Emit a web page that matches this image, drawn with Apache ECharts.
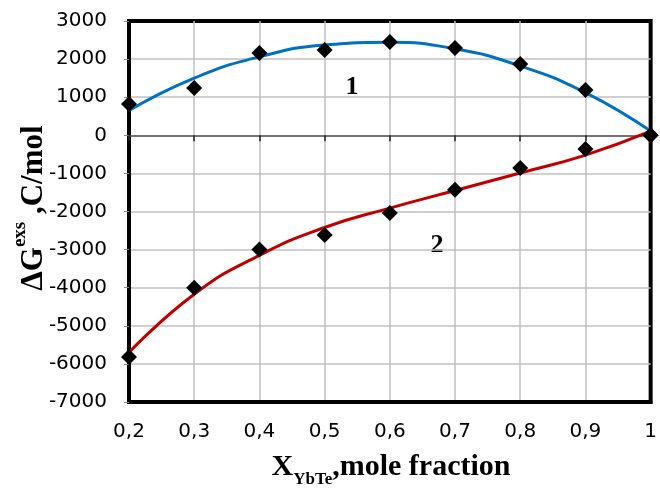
<!DOCTYPE html>
<html>
<head>
<meta charset="utf-8">
<script src="https://cdn.jsdelivr.net/npm/echarts@6/dist/echarts.min.js"></script>
<style>
	html, body { margin: 0; padding: 0; background: #fff; }
	#main { width: 660px; height: 490px; }
</style>
</head>
<body>
<div id="main"></div>
<script>
var X_VALUES = [0.2, 0.3, 0.4, 0.5, 0.6, 0.7, 0.8, 0.9, 1.0];
// measured points (diamonds)
var EXP_1 = [820, 1240, 2160, 2240, 2450, 2290, 1870, 1190, 0];
var EXP_2 = [-5820, -4000, -3000, -2620, -2040, -1430, -860, -360, 0];
// fitted curves
var FIT_1 = [650, 1500, 2060, 2370, 2440, 2270, 1820, 1120, 110];
var FIT_2 = [-5700, -4170, -3150, -2420, -1910, -1450, -990, -520, 110];
var CURVE_LABELS = ["1", "2"];

function pairs(xs, ys) {
	return xs.map(function(x, i) {
		return [x, ys[i]];
	});
}

function fmtX(v) {
	return String(Math.round(v * 10) / 10).replace(".", ",");
}

var SERIF = "'Liberation Serif', 'DejaVu Serif', serif";
var SANS = "'DejaVu Sans', Verdana, sans-serif";

var chart = echarts.init(document.getElementById('main'));
var option = {
	animation: false,
	grid: {
		left: 129,
		right: 6,
		top: 21,
		bottom: 88,
		show: true,
		borderColor: '#000',
		borderWidth: 4,
		backgroundColor: 'transparent'
	},
	xAxis: [{
			type: 'value',
			min: 0.2,
			max: 1,
			interval: 0.1,
			position: 'bottom',
			axisLine: { show: true, onZero: false, lineStyle: { color: '#000', width: 4 } },
			axisTick: { show: false },
			axisLabel: {
				margin: 20,
				color: '#000',
				fontFamily: SANS,
				fontSize: 20,
				formatter: fmtX
			},
			splitLine: { showMinLine: false, showMaxLine: false, lineStyle: { color: '#c0c0c0', width: 1.5 } }
		},
		{
			// zero line with its small ticks
			type: 'value',
			min: 0.2,
			max: 1,
			interval: 0.1,
			position: 'top',
			axisLine: { show: true, onZero: true, lineStyle: { color: '#555', width: 1.5 } },
			axisTick: { show: true, inside: true, length: 6, lineStyle: { color: '#222', width: 1.5 } },
			axisLabel: { show: false },
			splitLine: { show: false }
		}
	],
	yAxis: {
		type: 'value',
		min: -7000,
		max: 3000,
		interval: 1000,
		axisLine: { show: true, lineStyle: { color: '#000', width: 4 } },
		axisTick: { show: true, length: 5, lineStyle: { color: '#888' } },
		axisLabel: {
			margin: 22,
			color: '#000',
			fontFamily: SANS,
			fontSize: 20,
			formatter: function(v) {
				return String(v);
			}
		},
		splitLine: { showMinLine: false, showMaxLine: false, lineStyle: { color: '#c0c0c0', width: 1.5 } }
	},
	series: [{
			type: 'line',
			data: pairs(X_VALUES, FIT_1),
			smooth: true,
			showSymbol: false,
			lineStyle: { color: '#0070c0', width: 3 },
			z: 3
		},
		{
			type: 'line',
			data: pairs(X_VALUES, FIT_2),
			smooth: true,
			showSymbol: false,
			lineStyle: { color: '#c00000', width: 3 },
			z: 3
		},
		{
			type: 'scatter',
			data: pairs(X_VALUES, EXP_1),
			symbol: 'diamond',
			symbolSize: 16,
			itemStyle: { color: '#000', opacity: 1 },
			z: 4
		},
		{
			type: 'scatter',
			data: pairs(X_VALUES, EXP_2),
			symbol: 'diamond',
			symbolSize: 16,
			itemStyle: { color: '#000', opacity: 1 },
			z: 4
		}
	],
	graphic: [{
			type: 'text',
			x: 352,
			y: 87,
			style: {
				text: CURVE_LABELS[0],
				font: 'bold 26px ' + SERIF,
				fill: '#000',
				align: 'center',
				verticalAlign: 'middle'
			}
		},
		{
			type: 'text',
			x: 437,
			y: 245,
			style: {
				text: CURVE_LABELS[1],
				font: 'bold 26px ' + SERIF,
				fill: '#000',
				align: 'center',
				verticalAlign: 'middle'
			}
		},
		{
			// x axis title with subscript
			type: 'text',
			x: 391,
			y: 470,
			style: {
				text: '{m|X}{s|YbTe}{m|,mole fraction}',
				align: 'center',
				verticalAlign: 'middle',
				rich: {
					m: {
						fontFamily: SERIF,
						fontWeight: 'bold',
						fontSize: 30,
						color: '#000',
						verticalAlign: 'bottom',
						padding: [0, 0, 6, 0]
					},
					s: {
						fontFamily: SERIF,
						fontWeight: 'bold',
						fontSize: 17,
						color: '#000',
						verticalAlign: 'bottom'
					}
				}
			}
		},
		{
			// y axis title with superscript
			type: 'text',
			x: 30,
			y: 208,
			rotation: Math.PI / 2,
			style: {
				text: '{m|ΔG}{s|exs}{m| ,C/mol}',
				align: 'center',
				verticalAlign: 'middle',
				rich: {
					m: {
						fontFamily: SERIF,
						fontWeight: 'bold',
						fontSize: 31,
						color: '#000',
						verticalAlign: 'top',
						padding: [8, 0, 0, 0]
					},
					s: {
						fontFamily: SERIF,
						fontWeight: 'bold',
						fontSize: 19,
						color: '#000',
						verticalAlign: 'top'
					}
				}
			}
		}
	]
};
chart.setOption(option);
</script>
</body>
</html>
